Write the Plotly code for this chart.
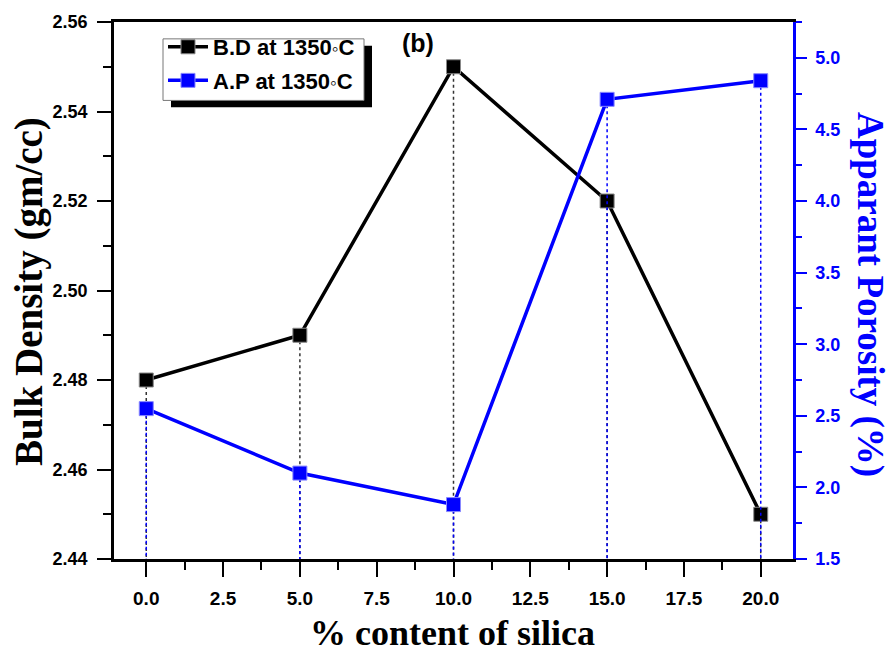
import plotly.graph_objects as go

# Silica content (%) and measured properties after firing at 1350 °C
silica = [0, 5, 10, 15, 20]
bulk_density = [2.48, 2.49, 2.55, 2.52, 2.45]      # gm/cc
apparent_porosity = [2.55, 2.10, 1.88, 4.71, 4.84]  # %

BD_MIN, BD_MAX = 2.44, 2.56
AP_MIN, AP_MAX = 1.5, 5.25
X_MIN, X_MAX = -1.05, 21.05

BLUE = "#0000FF"
TICK_FONT = "Liberation Sans, Arial, sans-serif"
SERIF = "Liberation Serif, Times New Roman, serif"


def drops(xs, ys, base):
    """Vertical segments from each point down to the axis floor."""
    dx, dy = [], []
    for x, y in zip(xs, ys):
        dx += [x, x, None]
        dy += [y, base, None]
    return dx, dy


fig = go.Figure()

bx, by = drops(silica, bulk_density, BD_MIN)
fig.add_trace(go.Scatter(x=bx, y=by, mode="lines", showlegend=False,
                         line=dict(color="#333333", width=1.5, dash="dot"),
                         hoverinfo="skip"))
ax, ay = drops(silica, apparent_porosity, AP_MIN)
fig.add_trace(go.Scatter(x=ax, y=ay, mode="lines", showlegend=False, yaxis="y2",
                         line=dict(color=BLUE, width=1.5, dash="dot"),
                         hoverinfo="skip"))

DEG = "<span style='font-size:19px;font-weight:normal'>◦</span>"
fig.add_trace(go.Scatter(
    x=silica, y=bulk_density, mode="lines+markers",
    name="<b>B.D at 1350</b>" + DEG + "<b>C</b>",
    legendgroup="bd",
    line=dict(color="black", width=3.5),
    marker=dict(symbol="square", size=14, color="black",
                line=dict(color="#888888", width=1)),
))
fig.add_trace(go.Scatter(
    x=silica, y=apparent_porosity, mode="lines+markers",
    name="<b>A.P at 1350</b>" + DEG + "<b>C</b>",
    legendgroup="ap", yaxis="y2",
    line=dict(color=BLUE, width=3.5),
    marker=dict(symbol="square", size=14, color=BLUE,
                line=dict(color="#8888ff", width=1)),
))

W, H = 893, 654
L, R, T, B = 114, 100, 18, 95
pw, ph = W - L - R, H - T - B


def px_x(p):
    return (p - L) / pw


def px_y(p):
    return (H - B - p) / ph


# legend frame with its drop shadow
fig.add_shape(type="rect", xref="paper", yref="paper",
              x0=px_x(171), x1=px_x(372), y0=px_y(104), y1=px_y(42),
              fillcolor="black", line=dict(width=0), layer="above")
fig.add_shape(type="rect", xref="paper", yref="paper",
              x0=px_x(163), x1=px_x(364), y0=px_y(97), y1=px_y(35),
              fillcolor="white", line=dict(color="#777777", width=1), layer="above")

fig.add_annotation(text="<b>(b)</b>", xref="paper", yref="paper",
                   x=px_x(418), y=px_y(39), xanchor="center", yanchor="middle",
                   showarrow=False,
                   font=dict(family=TICK_FONT, size=25, color="black"))

fig.add_annotation(text="<b>Apparant Porosity (%)</b>", xref="paper", yref="paper",
                   x=px_x(870), y=px_y(292), xanchor="center", yanchor="middle",
                   showarrow=False, textangle=90,
                   font=dict(family=SERIF, size=37, color=BLUE))

fig.add_annotation(text="<b>Bulk Density (gm/cc)</b>", xref="paper", yref="paper",
                   x=px_x(29), y=px_y(290), xanchor="center", yanchor="middle",
                   showarrow=False, textangle=-90,
                   font=dict(family=SERIF, size=39, color="black"))

fig.add_annotation(text="<b>% content of silica</b>", xref="paper", yref="paper",
                   x=px_x(452), y=px_y(634), xanchor="center", yanchor="middle",
                   showarrow=False,
                   font=dict(family=SERIF, size=36, color="black"))

fig.update_layout(
    width=W, height=H,
    margin=dict(l=L, r=R, t=T, b=B),
    paper_bgcolor="white", plot_bgcolor="white",
    showlegend=True,
    legend=dict(x=px_x(163), y=px_y(22), xanchor="left", yanchor="top",
                bgcolor="rgba(0,0,0,0)", borderwidth=0,
                font=dict(family=TICK_FONT, size=22, color="black"),
                itemwidth=40, traceorder="grouped", tracegroupgap=2),
    xaxis=dict(
        range=[X_MIN, X_MAX], tickmode="array",
        tickvals=[0, 2.5, 5, 7.5, 10, 12.5, 15, 17.5, 20],
        ticktext=["<b>%.1f</b>" % v for v in [0, 2.5, 5, 7.5, 10, 12.5, 15, 17.5, 20]],
        ticks="outside", ticklen=15, tickwidth=2, tickcolor="black",
        minor=dict(tickvals=[1.25, 3.75, 6.25, 8.75, 11.25, 13.75, 16.25, 18.75],
                   ticks="outside", ticklen=8, tickwidth=2, tickcolor="black"),
        showline=True, linecolor="black", linewidth=2.5, mirror=True,
        showgrid=False, zeroline=False,
        tickfont=dict(family="Liberation Sans Narrow, Arial Narrow, Liberation Sans", size=19,
                      color="black"),
        ticklabelstandoff=5,
    ),
    yaxis=dict(
        range=[BD_MIN, BD_MAX], tickmode="array",
        tickvals=[2.44, 2.46, 2.48, 2.50, 2.52, 2.54, 2.56],
        ticktext=["<b>%.2f</b>" % v for v in [2.44, 2.46, 2.48, 2.50, 2.52, 2.54, 2.56]],
        ticks="outside", ticklen=14, tickwidth=2, tickcolor="black",
        minor=dict(tickvals=[2.45, 2.47, 2.49, 2.51, 2.53, 2.55],
                   ticks="outside", ticklen=8, tickwidth=2, tickcolor="black"),
        showline=True, linecolor="black", linewidth=2.5,
        showgrid=False, zeroline=False,
        tickfont=dict(family=TICK_FONT, size=18, color="black"),
        ticklabelstandoff=6,
    ),
    yaxis2=dict(
        range=[AP_MIN, AP_MAX], overlaying="y", side="right", tickmode="array",
        tickvals=[1.5, 2.0, 2.5, 3.0, 3.5, 4.0, 4.5, 5.0],
        ticktext=["<b>%.1f</b>" % v for v in [1.5, 2.0, 2.5, 3.0, 3.5, 4.0, 4.5, 5.0]],
        ticks="outside", ticklen=11, tickwidth=2, tickcolor=BLUE,
        minor=dict(tickvals=[1.75, 2.25, 2.75, 3.25, 3.75, 4.25, 4.75, 5.25],
                   ticks="outside", ticklen=6, tickwidth=2, tickcolor=BLUE),
        showline=True, linecolor=BLUE, linewidth=2.5,
        showgrid=False, zeroline=False,
        tickfont=dict(family=TICK_FONT, size=18, color=BLUE),
        ticklabelstandoff=5,
    ),
)

fig.write_html("out.html")
